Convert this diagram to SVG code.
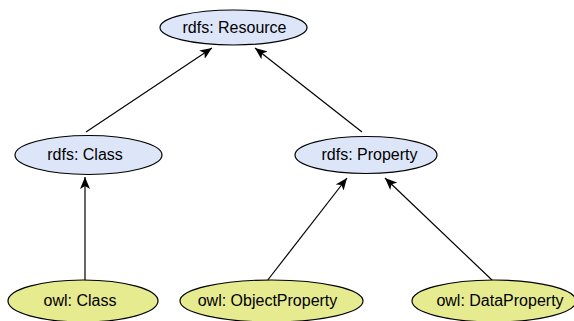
<svg xmlns="http://www.w3.org/2000/svg" width="574" height="321" viewBox="0 0 574 321">
<defs>
<style>
.rdfs{fill:#dde6f8;stroke:#000;stroke-width:1.2}
.owl{fill:#e6eb90;stroke:#000;stroke-width:1.2}
.lbl{font-family:"Liberation Sans",Arial,sans-serif;font-size:16px;fill:#000;text-anchor:middle}
.edge{stroke:#000;stroke-width:1.2;fill:none;marker-end:url(#arr)}
</style>
<marker id="arr" viewBox="0 0 12 10" refX="12" refY="5" markerWidth="12" markerHeight="10" markerUnits="userSpaceOnUse" orient="auto">
<path d="M0,0 L12,5 L0,10 L3,5 Z" fill="#000"/>
</marker>
</defs>
<g id="connectors">
<line class="edge" x1="86" y1="132" x2="212" y2="48"/>
<line class="edge" x1="362" y1="132" x2="255" y2="48"/>
<line class="edge" x1="85" y1="281" x2="85" y2="177"/>
<line class="edge" x1="267" y1="281" x2="347" y2="178"/>
<line class="edge" x1="493" y1="281" x2="385" y2="178"/>
</g>
<g id="rdfs-resource">
<ellipse class="rdfs" cx="233.5" cy="27.5" rx="73.5" ry="17.5"/>
<text class="lbl" x="234.5" y="33">rdfs: Resource</text>
</g>
<g id="rdfs-class">
<ellipse class="rdfs" cx="88.5" cy="155" rx="73.5" ry="19.5"/>
<text class="lbl" x="85" y="160">rdfs: Class</text>
</g>
<g id="rdfs-property">
<ellipse class="rdfs" cx="366" cy="155" rx="71" ry="18.5"/>
<text class="lbl" x="369.5" y="160">rdfs: Property</text>
</g>
<g id="owl-class">
<ellipse class="owl" cx="83" cy="301" rx="75" ry="21"/>
<text class="lbl" x="80" y="306">owl: Class</text>
</g>
<g id="owl-objectproperty">
<ellipse class="owl" cx="271.5" cy="301" rx="91.5" ry="21"/>
<text class="lbl" x="267.5" y="306">owl: ObjectProperty</text>
</g>
<g id="owl-dataproperty">
<ellipse class="owl" cx="494" cy="301" rx="82" ry="21"/>
<text class="lbl" x="500" y="306">owl: DataProperty</text>
</g>
</svg>
